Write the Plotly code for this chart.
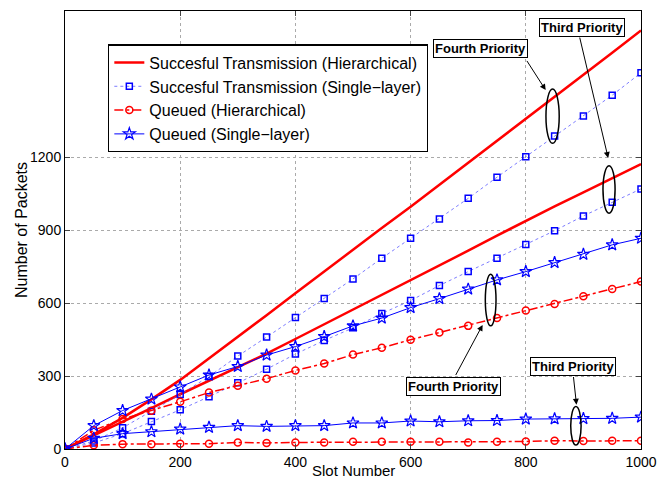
import plotly.graph_objects as go

slots = list(range(0, 1001, 50))

# Successful Transmission (Hierarchical) - fourth / third priority
st_hier_4 = [0, 60, 128, 204, 284, 372, 462, 550, 640, 730, 820, 908, 996,
             1086, 1176, 1266, 1356, 1446, 1536, 1628, 1720]
st_hier_3 = [0, 55, 112, 168, 225, 280, 335, 392, 452, 512, 573, 633, 694,
             755, 815, 877, 938, 997, 1055, 1113, 1171]
# Successful Transmission (Single-layer)
st_single_4 = [0, 33, 87, 155, 224, 298, 382, 460, 540, 618, 699, 784, 866,
               945, 1030, 1117, 1201, 1286, 1369, 1454, 1546]
st_single_3 = [0, 25, 63, 113, 161, 215, 272, 328, 390, 446, 498, 557, 610,
               672, 729, 784, 840, 897, 958, 1014, 1069]
# Queued (Hierarchical)
q_hier_4 = [0, 77, 123, 157, 194, 232, 260, 289, 323, 351, 388, 416, 449,
            479, 506, 538, 569, 596, 628, 658, 688]
q_hier_3 = [0, 15, 20, 20, 22, 22, 27, 25, 27, 27, 30, 30, 30,
            30, 27, 30, 31, 34, 33, 34, 34]
# Queued (Single-layer)
q_single_4 = [0, 96, 158, 205, 255, 304, 339, 386, 421, 462, 506, 538, 581,
              618, 657, 695, 729, 766, 800, 839, 866]
q_single_3 = [0, 44, 63, 71, 82, 89, 96, 93, 96, 96, 107, 107, 115,
              112, 116, 117, 123, 124, 125, 126, 131]

legend_names = ["Succesful Transmission (Hierarchical)",
                "Succesful Transmission (Single\u2212layer)",
                "Queued (Hierarchical)",
                "Queued (Single\u2212layer)"]

xticks = [0, 200, 400, 600, 800, 1000]
yticks = [0, 300, 600, 900, 1200]

RED = "rgb(255,0,0)"
BLUE = "rgb(0,0,255)"

fig = go.Figure()

def add(y, name, show, line, marker=None, mode="lines"):
    kw = dict(x=slots, y=y, name=name, legendgroup=name, showlegend=show,
              mode=mode, line=line)
    if marker:
        kw["marker"] = marker
    fig.add_trace(go.Scatter(**kw))

for i, y in enumerate([st_hier_4, st_hier_3]):
    add(y, legend_names[0], i == 0, dict(color=RED, width=2.5))
for i, y in enumerate([st_single_4, st_single_3]):
    add(y, legend_names[1], i == 0, dict(color="rgb(90,90,255)", width=0.8, dash="dot"),
        dict(symbol="square-open", size=6, color=BLUE, line=dict(width=1.5, color=BLUE)),
        mode="lines+markers")
for i, y in enumerate([q_hier_4, q_hier_3]):
    add(y, legend_names[2], i == 0, dict(color=RED, width=1.5, dash="dashdot"),
        dict(symbol="circle-open", size=7, color=RED, line=dict(width=1.5, color=RED)),
        mode="lines+markers")
for i, y in enumerate([q_single_4, q_single_3]):
    add(y, legend_names[3], i == 0, dict(color=BLUE, width=1),
        dict(symbol="star-open", size=9, color=BLUE, line=dict(width=1.2, color=BLUE)),
        mode="lines+markers")

FONT = "Liberation Sans, Arial, Helvetica, sans-serif"

labels = [("Fourth Priority", 720.5, 1645),
          ("Third Priority", 896.7, 1731.5),
          ("Fourth Priority", 675, 258),
          ("Third Priority", 882, 340)]
for t, x, y in labels:
    fig.add_annotation(x=x, y=y, xref="x", yref="y", text="<b>%s</b>" % t,
                       showarrow=False, font=dict(family=FONT, size=13, color="black"),
                       bgcolor="white", bordercolor="black", borderwidth=1, borderpad=1)

arrows = [(800.3, 1601, 834.5, 1475),
          (893, 1697, 943, 1196),
          (677, 298, 725, 510),
          (882.5, 302, 888, 182)]
for ax_, ay_, hx, hy in arrows:
    fig.add_annotation(x=hx, y=hy, ax=ax_, ay=ay_, xref="x", yref="y",
                       axref="x", ayref="y", text="", showarrow=True,
                       arrowhead=2, arrowsize=1.2, arrowwidth=1, arrowcolor="black")

ellipses = [(835, 858, 1256, 1479),
            (934, 955, 969, 1164),
            (729.7, 748.3, 506, 718),
            (878, 896, 16, 175)]
for x0, x1, y0, y1 in ellipses:
    fig.add_shape(type="circle", xref="x", yref="y", x0=x0, x1=x1, y0=y0, y1=y1,
                  line=dict(color="black", width=1.5))

# axis titles as annotations
fig.add_annotation(x=0.5, y=-0.049, xref="paper", yref="paper", text="Slot Number",
                   showarrow=False, yanchor="middle",
                   font=dict(family=FONT, size=15, color="black"))
fig.add_annotation(x=-0.0764, y=0.5, xref="paper", yref="paper", text="Number of Packets",
                   showarrow=False, textangle=-90, xanchor="center",
                   font=dict(family=FONT, size=16, color="black"))

# page body has an 8px margin: figure is shrunk/offset so the plot area lands at
# x 65..641, y 11..449 of the window
fig.update_layout(
    width=658, height=474,
    margin=dict(l=57, r=25, t=3, b=33),
    paper_bgcolor="white", plot_bgcolor="white",
    font=dict(family=FONT, size=14, color="black"),
    legend=dict(x=0.0747, y=0.924, xanchor="left", yanchor="top",
                bgcolor="white", bordercolor="black", borderwidth=1.3,
                font=dict(family=FONT, size=16), tracegroupgap=0,
                itemwidth=30),
    showlegend=True,
)
fig.update_xaxes(range=[0, 1000], tickvals=xticks, ticks="inside", ticklen=5,
                 showline=True, linecolor="black", linewidth=1, mirror="allticks",
                 showgrid=True, gridcolor="#aaaaaa", griddash="dot", gridwidth=1,
                 zeroline=False, tickfont=dict(size=14), automargin=False,
                 ticklabelstandoff=0)
fig.update_yaxes(range=[0, 1800], tickvals=yticks, ticks="inside", ticklen=5,
                 showline=True, linecolor="black", linewidth=1, mirror="allticks",
                 showgrid=True, gridcolor="#aaaaaa", griddash="dot", gridwidth=1,
                 zeroline=False, tickfont=dict(size=14), automargin=False)

fig.write_html("out.html")
